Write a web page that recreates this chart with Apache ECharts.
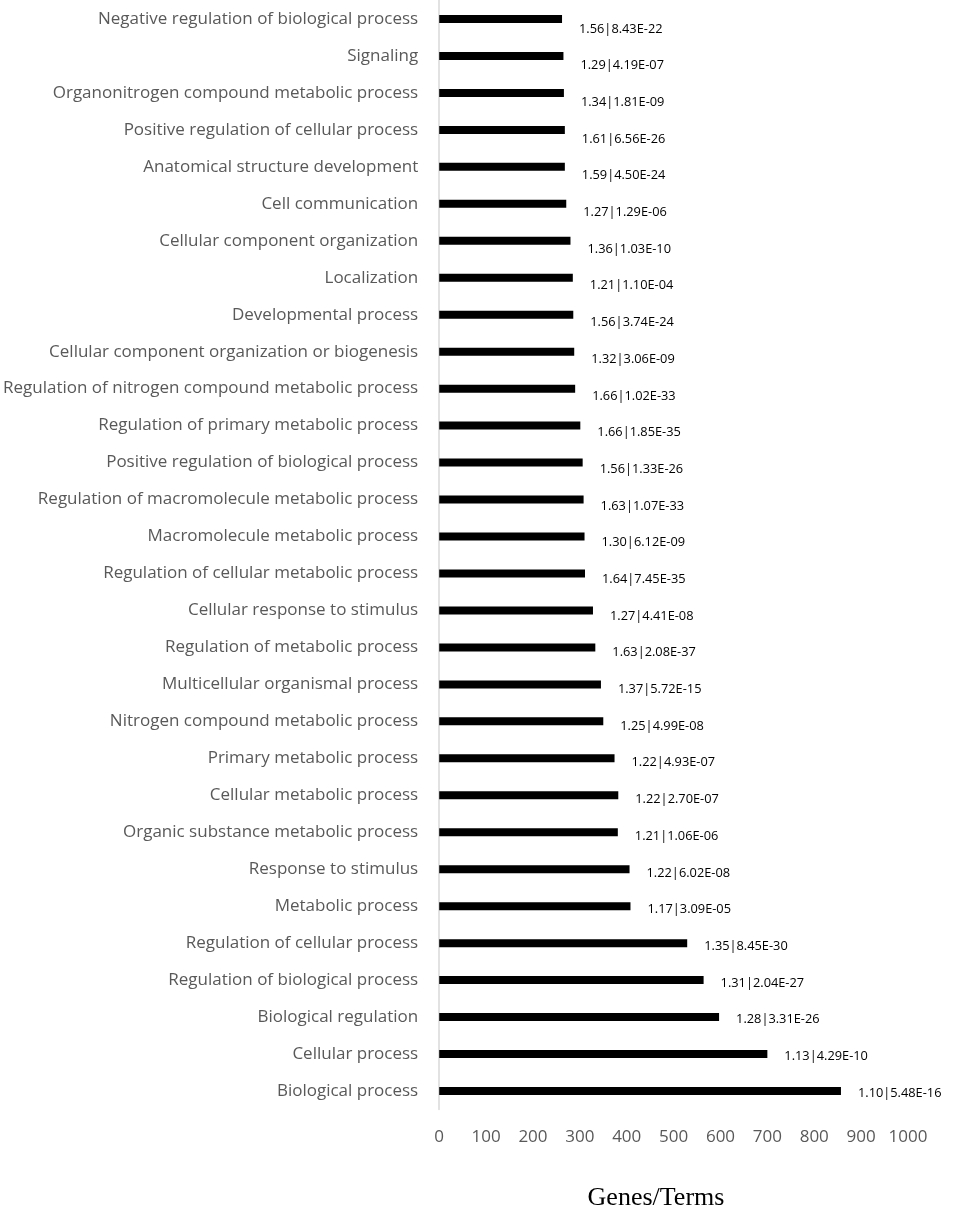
<!DOCTYPE html>
<html>
<head>
<meta charset="utf-8">
<script src="https://cdn.jsdelivr.net/npm/echarts@6/dist/echarts.min.js"></script>
<style>
  html, body { margin: 0; padding: 0; background: #fff; }
  #chart { width: 957px; height: 1209px; }
</style>
</head>
<body>
<div id="chart"></div>
<script>
// categories top to bottom
const terms = [
  "Negative regulation of biological process",
  "Signaling",
  "Organonitrogen compound metabolic process",
  "Positive regulation of cellular process",
  "Anatomical structure development",
  "Cell communication",
  "Cellular component organization",
  "Localization",
  "Developmental process",
  "Cellular component organization or biogenesis",
  "Regulation of nitrogen compound metabolic process",
  "Regulation of primary metabolic process",
  "Positive regulation of biological process",
  "Regulation of macromolecule metabolic process",
  "Macromolecule metabolic process",
  "Regulation of cellular metabolic process",
  "Cellular response to stimulus",
  "Regulation of metabolic process",
  "Multicellular organismal process",
  "Nitrogen compound metabolic process",
  "Primary metabolic process",
  "Cellular metabolic process",
  "Organic substance metabolic process",
  "Response to stimulus",
  "Metabolic process",
  "Regulation of cellular process",
  "Regulation of biological process",
  "Biological regulation",
  "Cellular process",
  "Biological process"
];

const geneCounts = [
  262, 265, 266, 268, 268, 271, 280, 285, 286, 288,
  290, 301, 306, 308, 310, 311, 328, 333, 345, 350,
  374, 382, 381, 406, 408, 529, 564, 597, 700, 857
];

const barLabels = [
  "1.56|8.43E-22", "1.29|4.19E-07", "1.34|1.81E-09", "1.61|6.56E-26", "1.59|4.50E-24",
  "1.27|1.29E-06", "1.36|1.03E-10", "1.21|1.10E-04", "1.56|3.74E-24", "1.32|3.06E-09",
  "1.66|1.02E-33", "1.66|1.85E-35", "1.56|1.33E-26", "1.63|1.07E-33", "1.30|6.12E-09",
  "1.64|7.45E-35", "1.27|4.41E-08", "1.63|2.08E-37", "1.37|5.72E-15", "1.25|4.99E-08",
  "1.22|4.93E-07", "1.22|2.70E-07", "1.21|1.06E-06", "1.22|6.02E-08", "1.17|3.09E-05",
  "1.35|8.45E-30", "1.31|2.04E-27", "1.28|3.31E-26", "1.13|4.29E-10", "1.10|5.48E-16"
];

const xTicks = [0, 100, 200, 300, 400, 500, 600, 700, 800, 900, 1000];

const n = terms.length;
// labels drift from slightly below the bar at top to level at bottom
const seriesData = geneCounts.map((v, i) => ({
  value: v,
  label: { offset: [0, 10 - 8 * i / (n - 1)] }
}));

const chart = echarts.init(document.getElementById("chart"));
chart.setOption({
  animation: false,
  backgroundColor: "#fff",
  title: {
    text: "Genes/Terms",
    left: 651,
    top: 1180,
    textAlign: "center",
    textStyle: { fontFamily: "Liberation Serif", fontSize: 26, fontWeight: "normal", color: "#000" }
  },
  grid: { left: 438, right: 49, top: 0.5, height: 1109, containLabel: false },
  xAxis: {
    type: "value",
    min: xTicks[0],
    max: xTicks[xTicks.length - 1],
    interval: 100,
    axisLine: { show: false },
    axisTick: { show: false },
    splitLine: { show: false },
    axisLabel: {
      color: "#595959", fontSize: 17, fontFamily: "Open Sans", margin: 19,
      formatter: v => String(v)
    }
  },
  yAxis: {
    type: "category",
    data: terms,
    inverse: true,
    axisLine: { show: true, lineStyle: { color: "#d9d9d9", width: 1.5 } },
    axisTick: { show: false },
    axisLabel: {
      color: "#595959", fontSize: 17, fontFamily: "Open Sans", margin: 21,
      padding: [3, 0, 0, 0]
    }
  },
  series: [{
    type: "bar",
    data: seriesData,
    barWidth: 8,
    itemStyle: { color: "#000" },
    label: {
      show: true,
      position: "right",
      distance: 17,
      color: "#000",
      fontSize: 12.8,
      fontFamily: "Open Sans",
      formatter: p => barLabels[p.dataIndex]
    }
  }]
});
</script>
</body>
</html>
